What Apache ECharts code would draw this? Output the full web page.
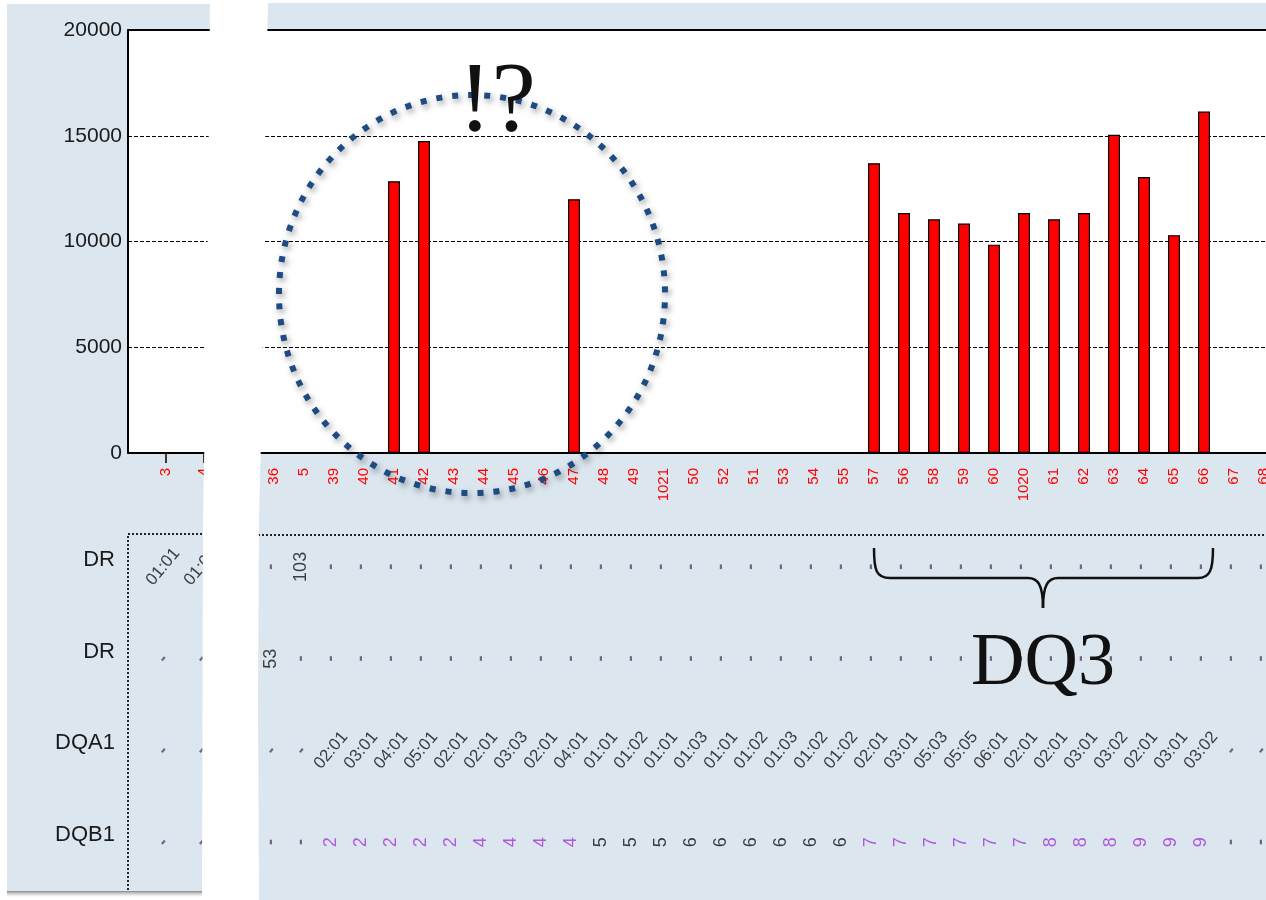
<!DOCTYPE html>
<html>
<head>
<meta charset="utf-8">
<title>DQ3</title>
<script src="https://cdn.jsdelivr.net/npm/echarts@6/dist/echarts.min.js"></script>
<style>
  html, body { margin: 0; padding: 0; background: #fff; }
  #chart { width: 1266px; height: 900px; }
</style>
</head>
<body>
<div id="chart"></div>
<script>
// columns shown next to the y axis, and the zoomed-in part on the right
const leftCols = ['', '3', '4', ''];
const rightCols = ['36', '5', '39', '40', '41', '42', '43', '44', '45', '46', '47', '48', '49', '1021',
  '50', '52', '51', '53', '54', '55', '57', '56', '58', '59', '60', '1020', '61', '62', '63', '64',
  '65', '66', '67', '68'];

const leftValues = [null, 0, 0, null];
const rightValues = [0, 0, 0, 0, 12850, 14750, 0, 0, 0, 0, 12000, 40, 40, 40,
  0, 0, 0, 0, 0, 0, 13700, 11350, 11050, 10850, 9850, 11350, 11050, 11350, 15050, 13050,
  10300, 16150, 0, 0];

const yTicks = [0, 5000, 10000, 15000, 20000];
const rowNames = ['DR', 'DR', 'DQA1', 'DQB1'];

// typing table, '-' = no call
const leftDR1 = ['', '01:01', '01:02', ''];
const leftDR2 = ['', '-', '-', ''];
const leftDQA1 = ['', '-', '-', ''];
const leftDQB1 = ['', '-', '-', ''];

const rightDR1 = ['-', '103', '-', '-', '-', '-', '-', '-', '-', '-', '-', '-', '-', '-',
  '-', '-', '-', '-', '-', '-', '-', '-', '-', '-', '-', '-', '-', '-', '-', '-', '-', '-', '-', '-'];
const rightDR2 = ['53', '-', '-', '-', '-', '-', '-', '-', '-', '-', '-', '-', '-', '-',
  '-', '-', '-', '-', '-', '-', '-', '-', '-', '-', '-', '-', '-', '-', '-', '-', '-', '-', '-', '-'];
const rightDQA1 = ['-', '-', '02:01', '03:01', '04:01', '05:01', '02:01', '02:01', '03:03', '02:01',
  '04:01', '01:01', '01:02', '01:01', '01:03', '01:01', '01:02', '01:03', '01:02', '01:02',
  '02:01', '03:01', '05:03', '05:05', '06:01', '02:01', '02:01', '03:01', '03:02', '02:01',
  '03:01', '03:02', '-', '-'];
const rightDQB1 = ['-', '-', '2', '2', '2', '2', '2', '4', '4', '4', '4', '5', '5', '5',
  '6', '6', '6', '6', '6', '6', '7', '7', '7', '7', '7', '7', '8', '8', '8', '9', '9', '9', '-', '-'];

const purpleDigits = ['2', '4', '7', '8', '9'];
const FONT = '"Liberation Sans", Arial, sans-serif';
const SERIF = '"Liberation Serif", "Times New Roman", serif';

function cellColor(t) {
  if (t === '-') return '#5b4566';
  if (purpleDigits.indexOf(t) >= 0) return '#a236d8';
  return '#111';
}

// label offset is applied in the rotated frame, turn a screen shift into it
function localOffset(dx, dy, deg) {
  const a = deg * Math.PI / 180;
  return [dx * Math.cos(a) - dy * Math.sin(a), dx * Math.sin(a) + dy * Math.cos(a)];
}

function buildCells(rows, rotations) {
  const out = [];
  rows.forEach(function (row, r) {
    row.forEach(function (t, c) {
      if (t === '') return;
      const rot = rotations[r];
      out.push({
        value: [c, r],
        cell: t,
        label: {
          rotate: rot,
          offset: localOffset(-3, 7, rot),
          color: cellColor(t),
          fontWeight: t === '-' ? 'bold' : 'normal',
          fontSize: t.indexOf(':') >= 0 ? 17 : 18
        }
      });
    });
  });
  return out;
}

const leftCells = buildCells([leftDR1, leftDR2, leftDQA1, leftDQB1], [50, 50, 50, 50]);
const rightCells = buildCells([rightDR1, rightDR2, rightDQA1, rightDQB1], [90, 90, 50, 90]);

const myChart = echarts.init(document.getElementById('chart'), null, { renderer: 'canvas' });

const dashed = { color: '#000', width: 1, type: [4, 2] };
const cellLabel = {
  show: true,
  position: 'inside',
  fontFamily: FONT,
  formatter: function (p) { return p.data.cell; }
};
const brace = { stroke: '#111', lineWidth: 2.5, fill: null };

const option = {
  backgroundColor: '#fff',
  animation: false,
  grid: [
    { left: 128, top: 30, width: 114, height: 423, show: true, backgroundColor: '#fff', borderWidth: 0, outerBoundsMode: 'none' },
    { left: 259, top: 30, width: 1020, height: 423, show: true, backgroundColor: '#fff', borderWidth: 0, outerBoundsMode: 'none' },
    { left: 128, top: 514, width: 114, height: 367, outerBoundsMode: 'none' },
    { left: 259, top: 514, width: 1020, height: 367, outerBoundsMode: 'none' }
  ],
  xAxis: [
    {
      type: 'category', gridIndex: 0, data: leftCols, boundaryGap: false,
      axisLine: { lineStyle: { color: '#000', width: 2 } },
      axisTick: { length: 10, lineStyle: { color: '#000', width: 1.5 }, interval: function (i, v) { return v !== ''; } },
      axisLabel: { rotate: 90, margin: 15, color: '#f00', fontSize: 15, fontFamily: FONT, interval: 0 }
    },
    {
      type: 'category', gridIndex: 1, data: rightCols,
      axisLine: { lineStyle: { color: '#000', width: 2 } },
      axisTick: { length: 10, alignWithLabel: true, interval: 0, lineStyle: { color: '#000', width: 1.5 } },
      axisLabel: { rotate: 90, margin: 15, color: '#f00', fontSize: 15, fontFamily: FONT, interval: 0 }
    },
    {
      type: 'category', gridIndex: 0, position: 'top', data: leftCols, boundaryGap: false,
      axisLine: { lineStyle: { color: '#000', width: 2 } }, axisTick: { show: false }, axisLabel: { show: false }
    },
    {
      type: 'category', gridIndex: 1, position: 'top', data: rightCols,
      axisLine: { lineStyle: { color: '#000', width: 2 } }, axisTick: { show: false }, axisLabel: { show: false }
    },
    { type: 'category', gridIndex: 2, data: leftCols, boundaryGap: false, show: false },
    { type: 'category', gridIndex: 3, data: rightCols, show: false }
  ],
  yAxis: [
    {
      type: 'value', gridIndex: 0, min: yTicks[0], max: yTicks[yTicks.length - 1], interval: 5000,
      axisLine: { show: true, lineStyle: { color: '#000', width: 2 } },
      axisTick: { show: false },
      axisLabel: { margin: 6, color: '#1a1a1a', fontSize: 21, fontFamily: FONT, formatter: function (v) { return String(v); } },
      splitLine: { lineStyle: dashed }
    },
    {
      type: 'value', gridIndex: 1, min: yTicks[0], max: yTicks[yTicks.length - 1], interval: 5000,
      axisLine: { show: false }, axisTick: { show: false }, axisLabel: { show: false },
      splitLine: { lineStyle: dashed }
    },
    {
      type: 'category', gridIndex: 2, data: rowNames, inverse: true,
      axisLine: { show: false }, axisTick: { show: false },
      axisLabel: { margin: 13, color: '#1a1a1a', fontSize: 22, fontFamily: FONT }
    },
    { type: 'category', gridIndex: 3, data: rowNames, inverse: true, show: false }
  ],
  series: [
    {
      type: 'bar', xAxisIndex: 0, yAxisIndex: 0, data: leftValues, barWidth: 12,
      itemStyle: { color: '#ff0000', borderColor: '#000', borderWidth: 1 }
    },
    {
      type: 'bar', xAxisIndex: 1, yAxisIndex: 1, data: rightValues, barWidth: 12,
      itemStyle: { color: '#ff0000', borderColor: '#000', borderWidth: 1.2 }
    },
    {
      type: 'scatter', xAxisIndex: 4, yAxisIndex: 2, data: leftCells, symbolSize: 1,
      itemStyle: { color: 'rgba(0,0,0,0)' }, label: cellLabel
    },
    {
      type: 'scatter', xAxisIndex: 5, yAxisIndex: 3, data: rightCells, symbolSize: 1,
      itemStyle: { color: 'rgba(0,0,0,0)' }, label: cellLabel
    }
  ],
  graphic: [
    // panel backgrounds
    { type: 'rect', z: -10, shape: { x: 7, y: 4, width: 240, height: 888 }, style: { fill: '#dce6ef' } },
    { type: 'rect', z: -10, shape: { x: 220, y: 3, width: 1046, height: 897 }, style: { fill: '#dce6ef' } },
    {
      type: 'rect', z: -9, shape: { x: 7, y: 891, width: 240, height: 6 },
      style: { fill: new echarts.graphic.LinearGradient(0, 0, 0, 1, [{ offset: 0, color: '#8a8a8a' }, { offset: 1, color: 'rgba(200,200,200,0)' }]) }
    },
    // dotted borders of the table
    { type: 'polyline', z: 5, shape: { points: [[128, 890], [128, 534], [206, 534]] }, style: { stroke: '#222', lineWidth: 2, lineDash: [2, 2], fill: null } },
    { type: 'line', z: 5, shape: { x1: 258, y1: 535, x2: 1266, y2: 535 }, style: { stroke: '#222', lineWidth: 2, lineDash: [2, 2] } },
    // the cut between the two parts
    {
      type: 'polygon', z: 50,
      shape: { points: [[210, 0], [207, 300], [203, 520], [202, 900], [259, 900], [258, 700], [259, 520], [262, 400], [265, 150], [268, 0]] },
      style: { fill: '#fff' }
    },
    // annotations
    {
      type: 'ellipse', z: 60, shape: { cx: 472, cy: 294, rx: 193, ry: 199 },
      style: { fill: null, stroke: '#1d4b82', lineWidth: 6, lineDash: [6, 10], shadowBlur: 6, shadowColor: 'rgba(0,0,0,0.45)', shadowOffsetX: 2, shadowOffsetY: 3 }
    },
    {
      type: 'text', z: 61, x: 497, y: 104,
      style: { text: '!?', font: '100px ' + SERIF, fill: '#111', textAlign: 'center', textVerticalAlign: 'middle' }
    },
    { type: 'bezierCurve', z: 61, shape: { x1: 874, y1: 548, cpx1: 874, cpy1: 570, cpx2: 876, cpy2: 578, x2: 890, y2: 578 }, style: brace },
    { type: 'line', z: 61, shape: { x1: 890, y1: 578, x2: 1028, y2: 578 }, style: brace },
    { type: 'bezierCurve', z: 61, shape: { x1: 1028, y1: 578, cpx1: 1038, cpy1: 578, cpx2: 1043, cpy2: 585, x2: 1043, y2: 608 }, style: brace },
    { type: 'bezierCurve', z: 61, shape: { x1: 1043, y1: 608, cpx1: 1043, cpy1: 585, cpx2: 1048, cpy2: 578, x2: 1058, y2: 578 }, style: brace },
    { type: 'line', z: 61, shape: { x1: 1058, y1: 578, x2: 1198, y2: 578 }, style: brace },
    { type: 'bezierCurve', z: 61, shape: { x1: 1198, y1: 578, cpx1: 1210, cpy1: 578, cpx2: 1213, cpy2: 570, x2: 1213, y2: 548 }, style: brace },
    {
      type: 'text', z: 61, x: 1043, y: 665,
      style: { text: 'DQ3', font: '74px ' + SERIF, fill: '#111', textAlign: 'center', textVerticalAlign: 'middle' }
    }
  ]
};

myChart.setOption(option);
</script>
</body>
</html>
